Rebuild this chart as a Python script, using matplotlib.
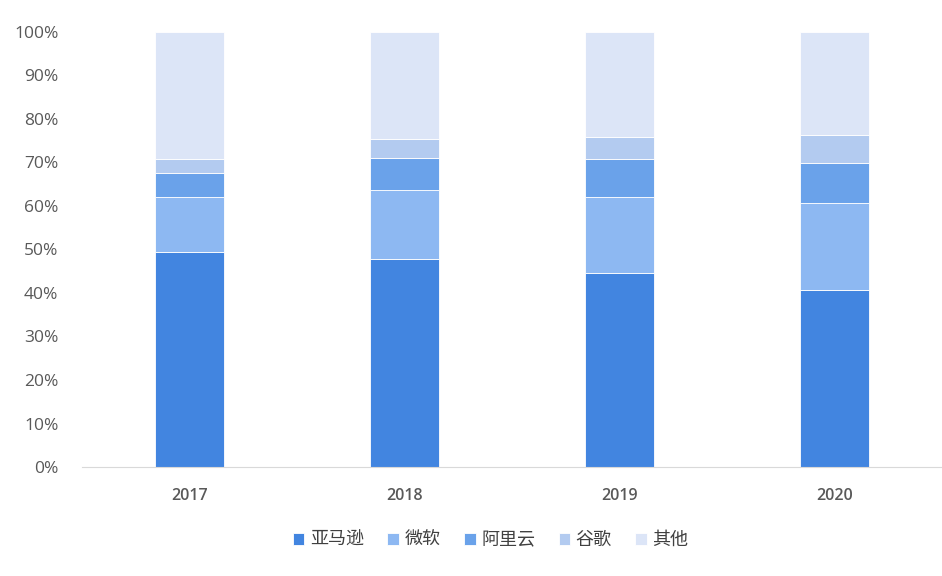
import matplotlib.pyplot as plt
import numpy as np

plt.rcParams['font.family'] = ['Noto Sans CJK SC', 'DejaVu Sans']

years = ["2017", "2018", "2019", "2020"]
series_names = ["亚马逊", "微软", "阿里云", "谷歌", "其他"]
amazon = [49.4, 47.8, 44.6, 40.7]
microsoft = [12.7, 15.9, 17.5, 20.0]
alibaba = [5.5, 7.3, 8.7, 9.2]
google = [3.2, 4.4, 5.1, 6.4]
others = [29.2, 24.6, 24.1, 23.7]
colors = ["#4285E0", "#8DB8F2", "#6AA2EA", "#B3CBF0", "#DCE5F7"]

fig = plt.figure(figsize=(9.42, 5.76), dpi=100)
ax = fig.add_axes([82 / 942, 1 - 467 / 576, 1 - 82 / 942, 435 / 576])

x = np.arange(len(years))
bottom = np.zeros(len(years))
for name, vals, c in zip(series_names, [amazon, microsoft, alibaba, google, others], colors):
    ax.bar(x, vals, width=0.32, bottom=bottom, color=c, label=name,
           edgecolor="white", linewidth=0.6)
    bottom += np.array(vals)

ax.set_xlim(-0.5, 3.5)
ax.set_ylim(0, 100)
ax.set_yticks(range(0, 101, 10))
ax.set_yticklabels([f"{v}%" for v in range(0, 101, 10)], family="Open Sans")
ax.set_xticks(x)
ax.set_xticklabels(years, family="Open Sans", fontweight="semibold")
ax.tick_params(axis="y", length=0, labelsize=12.5, colors="#595959", pad=17)
ax.tick_params(axis="x", length=0, labelsize=11.5, colors="#595959", pad=15)
for s in ["top", "right", "left"]:
    ax.spines[s].set_visible(False)
ax.spines["bottom"].set_color("#D9D9D9")

ax.legend(loc="upper center", bbox_to_anchor=(0.475, -0.11), ncol=5, frameon=False,
          fontsize=13, handlelength=0.65, handleheight=0.65, handletextpad=0.3,
          columnspacing=1.3, labelcolor="#404040")

fig.savefig("out.png", dpi=100)
